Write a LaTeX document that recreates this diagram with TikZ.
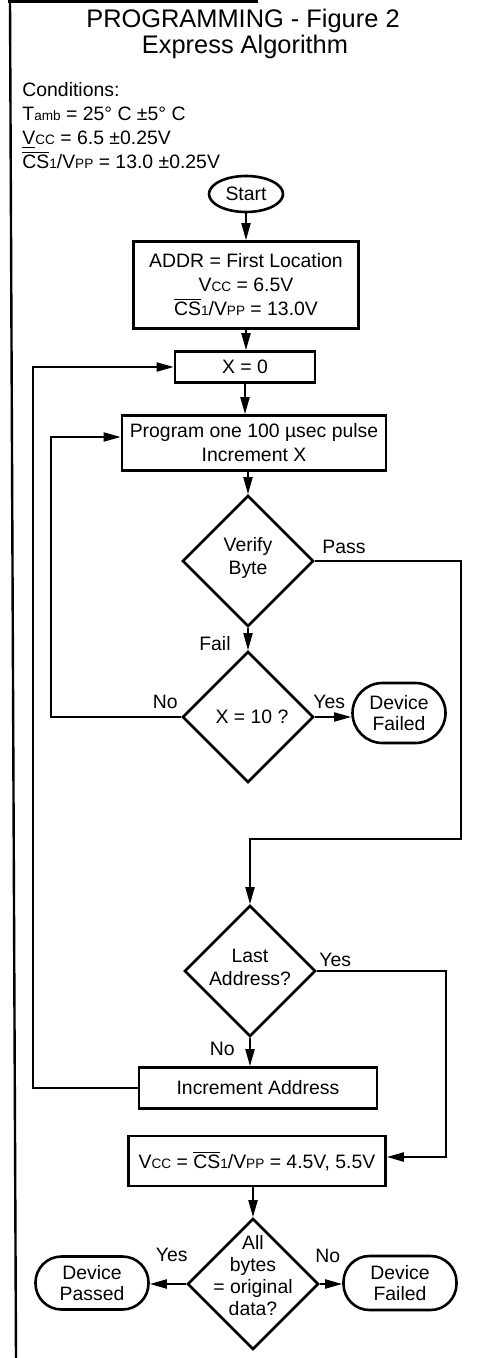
\documentclass[tikz,border=0pt]{standalone}
\usepackage{fontspec}
\setmainfont{Liberation Sans}
\usetikzlibrary{arrows.meta,positioning,shapes.geometric}
\newcommand{\sml}[1]{{\fontsize{6.8pt}{8pt}\selectfont #1}}
\newcommand{\ovl}[1]{$\overline{\mbox{#1}}$}
\tikzset{
  box/.style={draw,line width=1.3pt,inner sep=2pt,align=center,font=\fontsize{9.7}{12}\selectfont},
  term/.style={draw,line width=1.3pt,rounded corners=13pt,inner sep=1pt,align=center,font=\fontsize{9.7}{10.5}\selectfont},
  dec/.style={diamond,draw,line width=1.3pt,inner sep=0pt,aspect=1,
    minimum width=65.5pt,minimum height=65.5pt},
  dtxt/.style={inner sep=0pt,align=center,font=\fontsize{9.7}{11.5}\selectfont},
  lbl/.style={inner sep=0pt,font=\fontsize{9.7}{12}\selectfont},
  arr/.style={-{Triangle[length=8.5pt,width=4.5pt]},line width=1pt},
}

\begin{document}
\begin{tikzpicture}[x=0.5pt,y=-0.5pt]
  \useasboundingbox (0,0) rectangle (477,1358);
  % page edge
  \draw[line width=1.2pt] (8,1.5) -- (258,1.5);
  \draw[line width=1.2pt] (10,0) -- (16,1358);
  % heading and conditions
  \node[lbl,font=\fontsize{12.7}{15}\selectfont,anchor=base] (title) at (243,28) {PROGRAMMING - Figure 2};
  \node[lbl,font=\fontsize{12.7}{15}\selectfont,anchor=base] (subtitle) at (245,54) {Express Algorithm};
  \node[lbl,align=left,anchor=north west] (cond) at (22,82)
    {Conditions:\\ T\sml{amb} = 25° C ±5° C\\ \underline{V}\sml{CC} = 6.5 ±0.25V\\ \ovl{CS}\sml{1}/V\sml{PP} = 13.0 ±0.25V};

  % flow
  \node[ellipse,draw,line width=1.3pt,inner sep=0pt,minimum width=37pt,minimum height=18pt,
    font=\fontsize{9.7}{12}\selectfont] (start) at (246,194) {Start};
  \node[box,minimum width=112.5pt,minimum height=43.5pt] (addr) at (246,285)
    {ADDR = First Location\\ V\sml{CC} = 6.5V\\ \ovl{CS}\sml{1}/V\sml{PP} = 13.0V};
  \node[box,minimum width=70pt,minimum height=15.5pt] (xzero) at (245,367) {X = 0};
  \node[box,minimum width=132pt,minimum height=27.5pt] (prog) at (254,443) {Program one 100 µsec pulse\\ Increment X};
  \node[dec] (verify) at (248,561) {};
  \node[dtxt] (verifyt) at ([yshift=1.5pt]verify) {Verify\\ Byte};
  \node[dec] (xten) at (248,717) {};
  \node[dtxt] (xtent) at ([xshift=2pt]xten) {X = 10 ?};
  \node[term,rounded corners=15pt,minimum width=46.5pt,minimum height=30pt] (failA) at (399,713) {Device\\ Failed};
  \node[dec] (last) at (250,971) {};
  \node[dtxt] (lastt) at ([yshift=2pt]last) {Last\\ Address?};
  \node[box,minimum width=119pt,minimum height=20.5pt] (incaddr) at (258,1088) {Increment Address};
  \node[box,minimum width=128.5pt,minimum height=25pt] (vcheck) at (257,1161)
    {V\sml{CC} = \ovl{CS}\sml{1}/V\sml{PP} = 4.5V, 5.5V};
  \node[dec] (allok) at (253,1284) {};
  \node[dtxt,font=\fontsize{9.7}{11}\selectfont] (allokt) at ([yshift=4pt]allok) {All\\ bytes\\ = original\\ data?};
  \node[term,minimum width=56.5pt,minimum height=26.5pt] (passed) at (92,1283) {Device\\ Passed};
  \node[term,minimum width=56.5pt,minimum height=27pt] (failB) at (400,1283) {Device\\ Failed};

  % branch labels
  \node[lbl,anchor=base west] (passlbl) at (322,553) {Pass};
  \node[lbl,anchor=base east] (faillbl) at (231,650) {Fail};
  \node[lbl,anchor=base east] (nolbl1) at (178,708) {No};
  \node[lbl,anchor=base west] (yeslbl1) at (313,708) {Yes};
  \node[lbl,anchor=base west] (yeslbl2) at (319,966) {Yes};
  \node[lbl,anchor=base east] (nolbl2) at (235,1055) {No};
  \node[lbl,anchor=base east] (yeslbl3) at (188,1261) {Yes};
  \node[lbl,anchor=base west] (nolbl3) at (315,1262) {No};

  % routing points
  \coordinate (oloop) at (33,0);
  \coordinate (iloop) at (51,0);
  \coordinate (pline) at (461,0);
  \coordinate (yline) at (446,0);
  \coordinate (jog) at (250,839);
  \coordinate (pin) at ([yshift=3pt]prog.west);
  \coordinate (vin) at ([yshift=2pt]vcheck.east);

  % connectors
  \draw[arr] (start) -- (addr);
  \draw[arr] (addr) -- (addr |- xzero.north);
  \draw[arr] (xzero) -- (xzero |- prog.north);
  \draw[arr] (verify |- prog.south) -- (verify);
  \draw[arr] (verify) -- (xten);
  \draw[arr] (xten.east) -- (xten.east -| failA.west);
  \draw[arr] (xten.west) -- (xten.west -| iloop) -- (pin -| iloop) -- (pin);
  \draw[arr] (verify.east) -- (verify.east -| pline) -- (jog -| pline) -- (jog) -- (last);
  \draw[arr] (last) -- (last |- incaddr.north);
  \draw[arr] (last.east) -- (last.east -| yline) -- (vin -| yline) -- (vin);
  \draw[arr] (incaddr.west) -- (incaddr.west -| oloop) -- (xzero.west -| oloop) -- (xzero.west);
  \draw[arr] (allok |- vcheck.south) -- (allok);
  \draw[arr] (allok.west) -- (allok.west -| passed.east);
  \draw[arr] (allok.east) -- (allok.east -| failB.west);
\end{tikzpicture}
\end{document}
